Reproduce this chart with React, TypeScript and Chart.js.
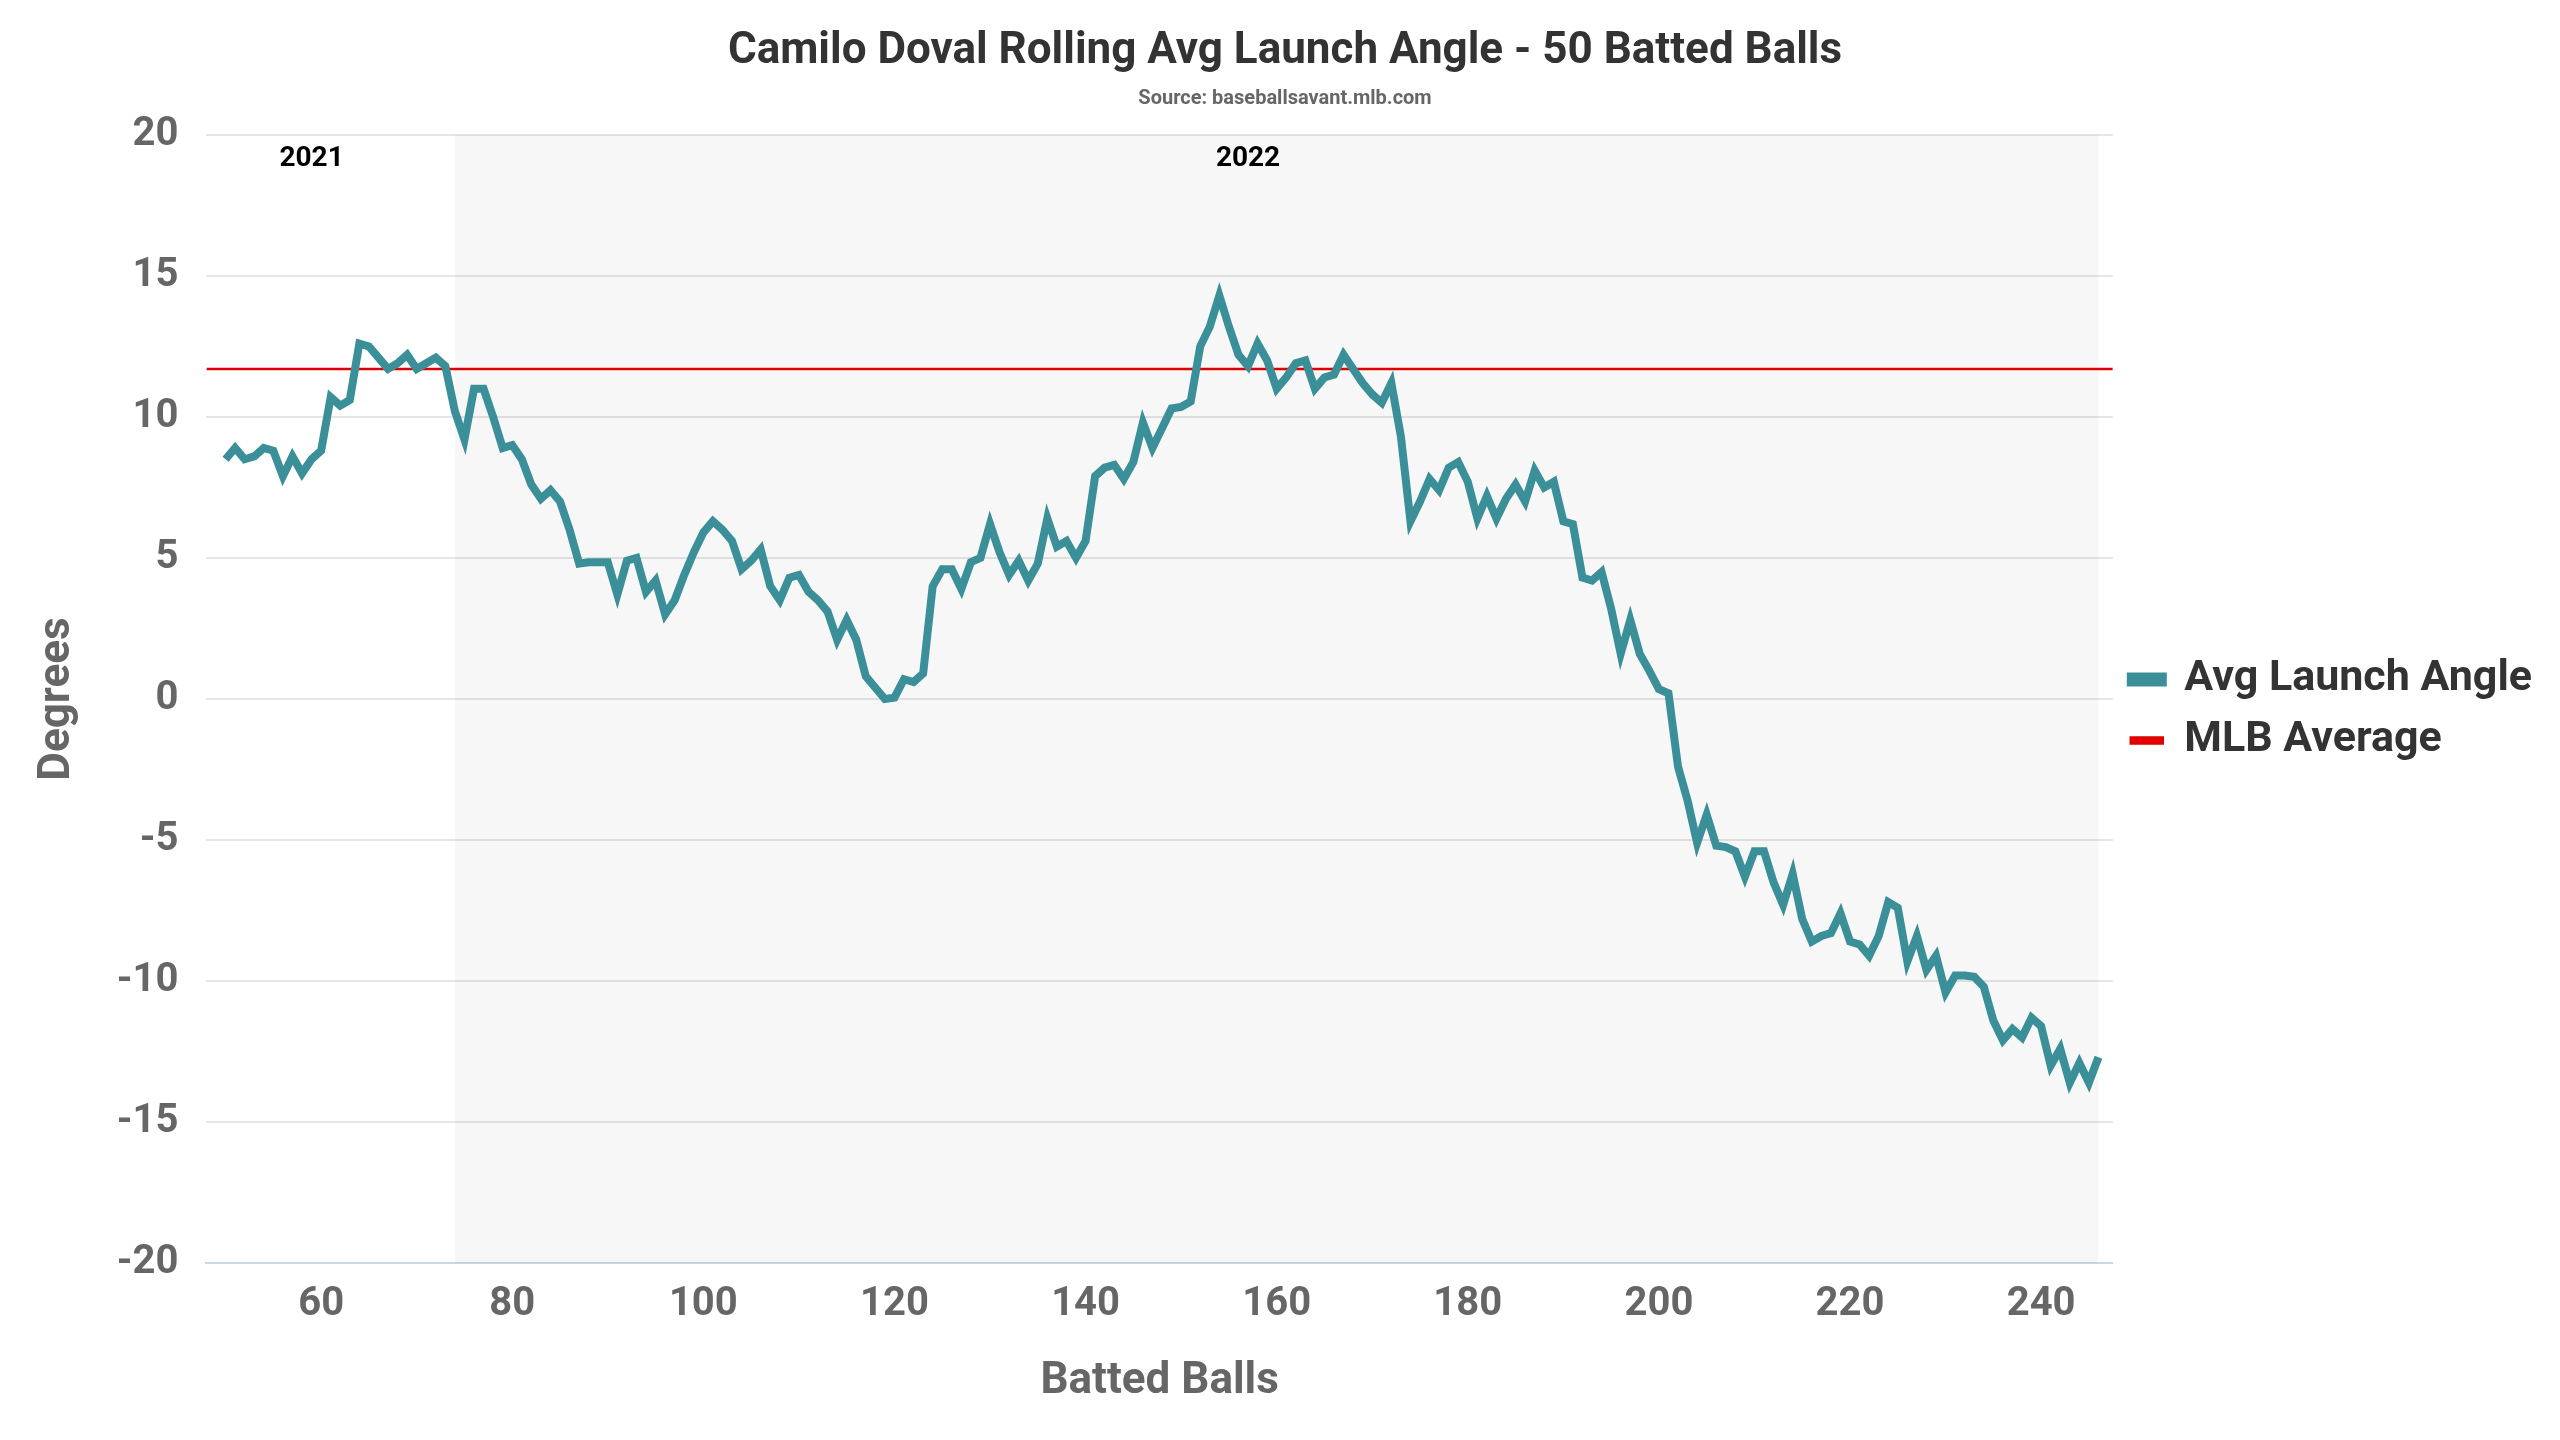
import React, { useEffect, useRef } from "react";
import { Chart, registerables } from "chart.js";
Chart.register(...registerables);

const startBall = 50;
const avgLaunchAngle = [8.5,8.9,8.5,8.6,8.9,8.8,7.9,8.6,8.0,8.5,8.8,10.7,10.4,10.6,12.6,12.5,12.1,11.7,11.9,12.2,11.7,11.9,12.1,11.8,10.2,9.2,11.0,11.0,10.0,8.9,9.0,8.5,7.6,7.1,7.4,7.0,6.0,4.8,4.85,4.85,4.85,3.7,4.9,5.0,3.8,4.2,3.0,3.5,4.4,5.2,5.9,6.3,6.0,5.6,4.6,4.9,5.3,4.0,3.5,4.3,4.4,3.8,3.5,3.1,2.1,2.8,2.1,0.8,0.4,0.0,0.05,0.7,0.6,0.9,4.0,4.6,4.6,3.9,4.85,5.0,6.2,5.2,4.4,4.9,4.2,4.8,6.4,5.4,5.6,5.0,5.6,7.9,8.2,8.3,7.8,8.4,9.8,8.9,9.6,10.3,10.35,10.55,12.5,13.2,14.3,13.2,12.2,11.8,12.6,12.0,11.0,11.4,11.9,12.0,11.0,11.4,11.5,12.2,11.7,11.2,10.8,10.5,11.2,9.3,6.3,7.0,7.8,7.4,8.2,8.4,7.7,6.4,7.2,6.4,7.1,7.6,7.0,8.1,7.5,7.7,6.3,6.2,4.3,4.2,4.5,3.2,1.6,2.8,1.6,1.0,0.35,0.2,-2.4,-3.6,-5.1,-4.1,-5.2,-5.25,-5.4,-6.3,-5.4,-5.4,-6.5,-7.3,-6.2,-7.8,-8.6,-8.4,-8.3,-7.6,-8.6,-8.7,-9.1,-8.4,-7.2,-7.4,-9.3,-8.4,-9.6,-9.1,-10.4,-9.8,-9.8,-9.85,-10.2,-11.4,-12.1,-11.7,-12.0,-11.3,-11.6,-13.0,-12.4,-13.6,-12.9,-13.6,-12.7];
const mlbAverage = 11.7;
const seasonStart2022 = 74;
const seasonLabels = [{ text: "2021", x: 59 }, { text: "2022", x: 157 }];
const xTicks = [60, 80, 100, 120, 140, 160, 180, 200, 220, 240];
const xMin = 48, xMax = 247.5, yMin = -20, yMax = 20;

const FONT = "'Roboto', sans-serif";
const GREY = "#666666";

export default function App() {
  const ref = useRef<HTMLCanvasElement>(null);
  useEffect(() => {
    const pts = avgLaunchAngle.map((v, i) => ({ x: startBall + i, y: v }));
    const lastX = startBall + avgLaunchAngle.length - 1;
    const bgPlugin = {
      id: "bg",
      beforeDatasetsDraw(chart: any) {
        const { ctx, chartArea, scales } = chart;
        const x1 = scales.x.getPixelForValue(seasonStart2022);
        const x2 = scales.x.getPixelForValue(lastX);
        ctx.save();
        ctx.fillStyle = "rgba(0,0,0,0.03)";
        ctx.fillRect(x1, chartArea.top, x2 - x1, chartArea.bottom - chartArea.top);
        ctx.fillStyle = "#000";
        ctx.font = `bold 28px ${FONT}`;
        ctx.textAlign = "center";
        ctx.textBaseline = "middle";
        for (const s of seasonLabels) ctx.fillText(s.text, scales.x.getPixelForValue(s.x), chartArea.top + 24);
        ctx.restore();
      },
    };
    const chart = new Chart(ref.current!, {
      type: "line",
      data: {
        datasets: [
          { label: "Avg Launch Angle", data: pts, borderColor: "#3a8f98", backgroundColor: "#3a8f98", borderWidth: 8, pointRadius: 0, tension: 0 },
          { label: "MLB Average", data: [{ x: xMin, y: mlbAverage }, { x: xMax, y: mlbAverage }], borderColor: "#dd0000", backgroundColor: "#ee0000", borderWidth: 2.5, pointRadius: 0 },
        ],
      },
      options: {
        animation: false,
        responsive: true,
        maintainAspectRatio: false,
        layout: { padding: { left: 20, right: 10, top: 0, bottom: 20 } },
        plugins: {
          title: { display: true, text: "Camilo Doval Rolling Avg Launch Angle - 50 Batted Balls", color: "#333", font: { family: FONT, size: 44, weight: "bold" }, padding: { top: 18, bottom: 8 } },
          subtitle: { display: true, text: "Source: baseballsavant.mlb.com", color: GREY, font: { family: FONT, size: 20, weight: "bold" }, padding: { bottom: 24 } },
          legend: { position: "right", labels: { color: "#333", boxWidth: 32, boxHeight: 6, font: { family: FONT, size: 43, weight: "bold" }, padding: 18 } },
          tooltip: { enabled: false },
        },
        scales: {
          x: {
            type: "linear", min: xMin, max: xMax,
            afterBuildTicks(axis: any) { axis.ticks = xTicks.map((v) => ({ value: v })); },
            ticks: { color: GREY, font: { family: FONT, size: 40, weight: "bold" }, padding: 10, autoSkip: false },
            grid: { display: false },
            border: { color: "#ccd6eb", width: 2 },
            title: { display: true, text: "Batted Balls", color: GREY, font: { family: FONT, size: 44, weight: "bold" }, padding: { top: 16 } },
          },
          y: {
            min: yMin, max: yMax,
            ticks: { stepSize: 5, color: GREY, font: { family: FONT, size: 40, weight: "bold" }, padding: 28 },
            grid: { color: "#e6e6e6", lineWidth: 2, drawTicks: false },
            border: { display: false },
            title: { display: true, text: "Degrees", color: GREY, font: { family: FONT, size: 44, weight: "bold" } },
          },
        },
      },
      plugins: [bgPlugin],
    } as any);
    return () => chart.destroy();
  }, []);
  return (
    <div style={{ width: 2544, height: 1424, background: "#fff" }}>
      <canvas ref={ref} />
    </div>
  );
}
